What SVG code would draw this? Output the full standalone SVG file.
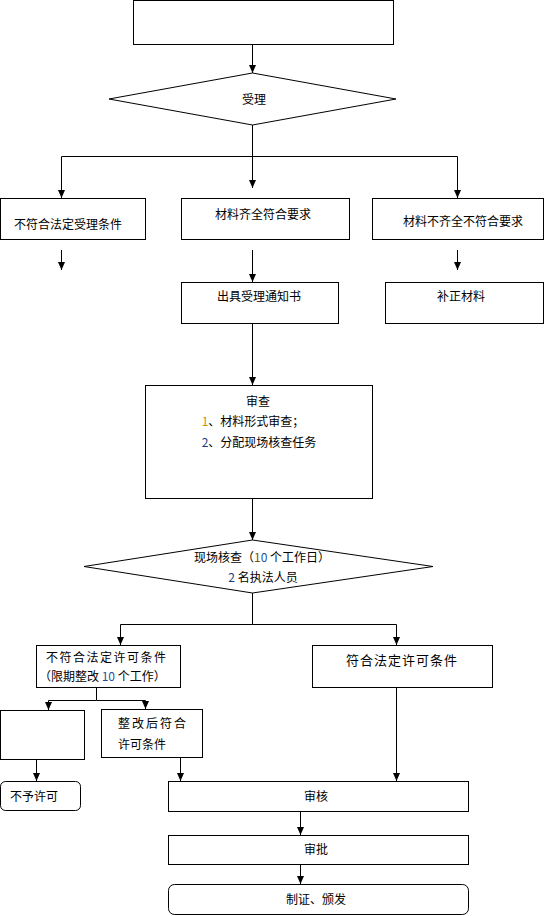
<svg xmlns="http://www.w3.org/2000/svg" width="553" height="916" viewBox="0 0 553 916">
<style>
.box{fill:#fff;stroke:#000;stroke-width:1}
.ln{fill:none;stroke:#000;stroke-width:1}
.arr{fill:none;stroke:#000;stroke-width:1;marker-end:url(#ah)}
text{font-family:"Noto Sans CJK SC","Noto Sans",sans-serif;font-size:12px;fill:#000}
.c{text-anchor:middle}
</style>
<defs>
<marker id="ah" markerUnits="userSpaceOnUse" markerWidth="8" markerHeight="9" refX="8" refY="4" orient="auto">
<path d="M0,0.5 L8,4 L0,7.5 z" fill="#000"/>
</marker>
</defs>
<rect width="553" height="916" fill="#fff"/>
<g id="connectors">
<line class="arr" x1="252.5" y1="44" x2="252.5" y2="73"/>
<line class="arr" x1="252.5" y1="125" x2="252.5" y2="188"/>
<polyline class="arr" points="252.5,156.5 61.5,156.5 61.5,198"/>
<polyline class="arr" points="252.5,156.5 457.5,156.5 457.5,198"/>
<line class="arr" x1="61.5" y1="250" x2="61.5" y2="270"/>
<line class="arr" x1="252.5" y1="250" x2="252.5" y2="282"/>
<line class="arr" x1="457.5" y1="250" x2="457.5" y2="270"/>
<line class="arr" x1="252.5" y1="323" x2="252.5" y2="385"/>
<line class="arr" x1="252.5" y1="499" x2="252.5" y2="540"/>
<line class="ln" x1="252.5" y1="593" x2="252.5" y2="624.5"/>
<polyline class="arr" points="252.5,624.5 120.5,624.5 120.5,645"/>
<polyline class="arr" points="252.5,624.5 396.5,624.5 396.5,645"/>
<line class="ln" x1="96.5" y1="688" x2="96.5" y2="700.5"/>
<polyline class="arr" points="96.5,700.5 48.5,700.5 48.5,710"/>
<polyline class="arr" points="96.5,700.5 145.5,700.5 145.5,709"/>
<line class="arr" x1="36.5" y1="760" x2="36.5" y2="781"/>
<line class="arr" x1="180.5" y1="758" x2="180.5" y2="781"/>
<line class="arr" x1="396.5" y1="688" x2="396.5" y2="781"/>
<line class="arr" x1="300.5" y1="812" x2="300.5" y2="835"/>
<line class="arr" x1="300.5" y1="865" x2="300.5" y2="884"/>
</g>
<g id="start"><rect class="box" x="133.5" y="0.5" width="260" height="44"/></g>
<g id="accept"><polygon class="box" points="109,99 252.5,73 396,99 252.5,125"/><text class="c" x="254" y="104">受理</text></g>
<g id="reject1"><rect class="box" x="0.5" y="198.5" width="145" height="41"/><text class="c" x="68" y="229">不符合法定受理条件</text></g>
<g id="complete"><rect class="box" x="181.5" y="198.5" width="168" height="41"/><text class="c" x="263" y="219">材料齐全符合要求</text></g>
<g id="incomplete"><rect class="box" x="372.5" y="198.5" width="171" height="41"/><text class="c" x="463" y="226">材料不齐全不符合要求</text></g>
<g id="notice"><rect class="box" x="181.5" y="282.5" width="157" height="41"/><text class="c" x="259" y="301">出具受理通知书</text></g>
<g id="supplement"><rect class="box" x="385.5" y="282.5" width="158" height="41"/><text class="c" x="461" y="301">补正材料</text></g>
<g id="review"><rect class="box" x="145.5" y="385.5" width="227" height="113"/>
<text class="c" x="258" y="406">审查</text>
<text class="c" x="253" y="426"><tspan fill="#d09000">1</tspan>、材料形式审查；</text>
<text class="c" x="259" y="447"><tspan fill="#1f3a8a">2</tspan>、分配现场核查任务</text></g>
<g id="inspect"><polygon class="box" points="84,566.5 252.5,540 433,566.5 252.5,593"/>
<text class="c" x="262" y="562">现场核查（<tspan fill="#7a5200">1</tspan><tspan fill="#1f4ea0">0</tspan> 个工作日）</text>
<text class="c" x="263" y="582"><tspan fill="#1f3a7a">2</tspan> 名执法人员</text></g>
<g id="nonconform"><rect class="box" x="36.5" y="645.5" width="144" height="42"/>
<text x="46" y="662" style="letter-spacing:1.5px">不符合法定许可条件</text>
<text x="39" y="681">（限期整改 <tspan fill="#1f4ea0">10</tspan> 个工作）</text></g>
<g id="conform"><rect class="box" x="312.5" y="645.5" width="180" height="42"/><text class="c" x="402" y="665" style="font-size:13px;letter-spacing:1px">符合法定许可条件</text></g>
<g id="empty"><rect class="box" x="0.5" y="710.5" width="84" height="49"/></g>
<g id="rectified"><rect class="box" x="101.5" y="709.5" width="101" height="48"/>
<text x="118" y="728" style="letter-spacing:2px">整改后符合</text>
<text x="118" y="749">许可条件</text></g>
<g id="deny"><rect class="box" x="0.5" y="781.5" width="80" height="29" rx="5"/><text x="10" y="801">不予许可</text></g>
<g id="audit"><rect class="box" x="168.5" y="781.5" width="300" height="30"/><text class="c" x="316" y="801">审核</text></g>
<g id="approve"><rect class="box" x="168.5" y="835.5" width="300" height="29"/><text class="c" x="316" y="854">审批</text></g>
<g id="issue"><rect class="box" x="168.5" y="884.5" width="300" height="30" rx="6"/><text class="c" x="316" y="904">制证、颁发</text></g>
</svg>
